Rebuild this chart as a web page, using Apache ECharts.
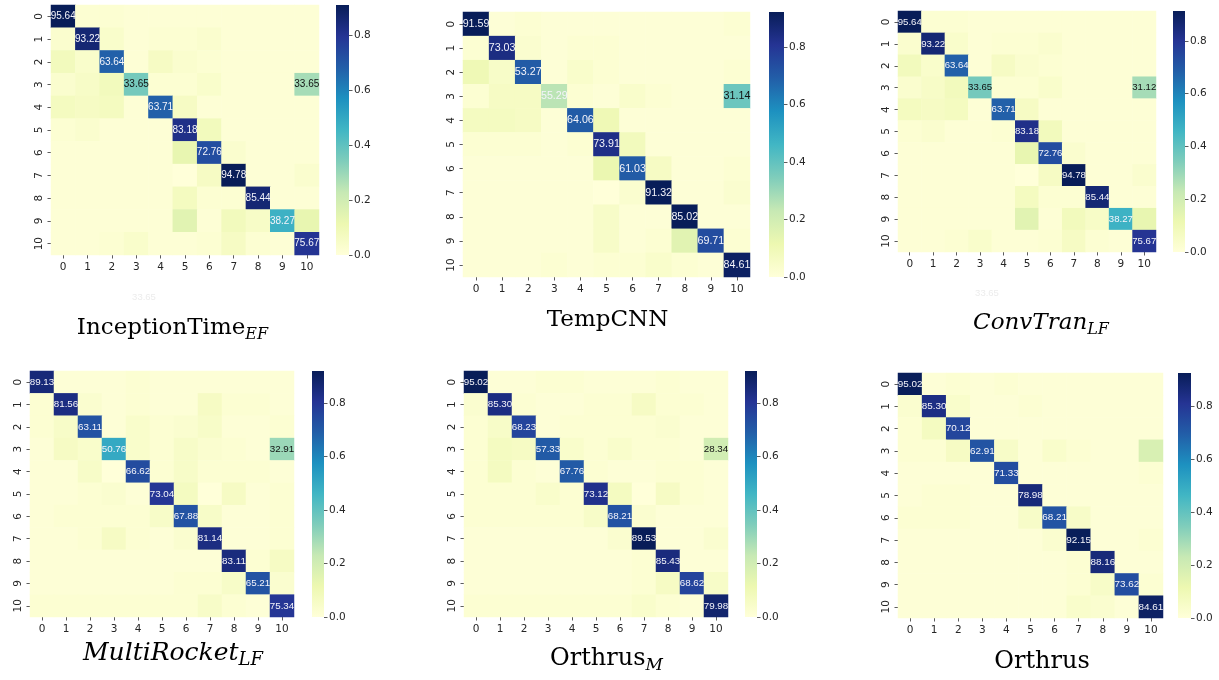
<!DOCTYPE html>
<html><head><meta charset="utf-8">
<script src="https://cdn.jsdelivr.net/npm/echarts@6/dist/echarts.min.js"></script>
<style>html,body{margin:0;padding:0;background:#fff}#c{width:1219px;height:680px}</style>
</head><body><div id="c"></div>
<script>
// ---------- DATA ----------
const classLabels = ['0','1','2','3','4','5','6','7','8','9','10'];
const colorbarTicks = [0, 0.2, 0.4, 0.6, 0.8];

// colour values (rows = true class, cols = predicted class)
const inceptionTimeEF = [
  [0.92,0.02,0.02,0.01,0.01,0.01,0.01,0.01,0.01,0.01,0.01],
  [0.03,0.86,0.04,0.01,0.02,0.02,0.03,0.01,0.01,0.01,0.01],
  [0.08,0.04,0.68,0.01,0.06,0.03,0.02,0.01,0.01,0.01,0.01],
  [0.03,0.05,0.08,0.36,0.02,0.02,0.04,0.01,0.01,0.01,0.28],
  [0.07,0.06,0.07,0.01,0.68,0.06,0.01,0.01,0.01,0.01,0.01],
  [0.02,0.03,0.01,0.01,0.01,0.82,0.08,0.01,0.01,0.01,0.01],
  [0.01,0.01,0.01,0.01,0.01,0.13,0.73,0.03,0.01,0.01,0.01],
  [0.01,0.01,0.01,0.01,0.01,0.00,0.06,0.92,0.01,0.01,0.03],
  [0.01,0.01,0.01,0.01,0.01,0.07,0.02,0.02,0.86,0.01,0.01],
  [0.01,0.01,0.01,0.01,0.01,0.15,0.01,0.08,0.05,0.47,0.13],
  [0.01,0.01,0.02,0.04,0.01,0.01,0.02,0.06,0.02,0.01,0.80]
];
const inceptionTimeEFText = [[0,0,'95.64'],[1,1,'93.22'],[2,2,'63.64'],[3,3,'33.65'],[3,10,'33.65'],[4,4,'63.71'],[5,5,'83.18'],[6,6,'72.76'],[7,7,'94.78'],[8,8,'85.44'],[9,9,'38.27'],[10,10,'75.67']];

const tempCNN = [
  [0.92,0.01,0.02,0.01,0.01,0.01,0.01,0.01,0.01,0.01,0.02],
  [0.02,0.84,0.03,0.01,0.02,0.02,0.01,0.01,0.01,0.01,0.01],
  [0.10,0.05,0.70,0.01,0.04,0.02,0.01,0.01,0.01,0.01,0.02],
  [0.02,0.06,0.06,0.25,0.02,0.01,0.04,0.02,0.01,0.01,0.38],
  [0.07,0.07,0.06,0.01,0.70,0.10,0.01,0.01,0.01,0.01,0.01],
  [0.02,0.02,0.02,0.01,0.02,0.83,0.08,0.01,0.01,0.01,0.01],
  [0.01,0.01,0.01,0.01,0.01,0.12,0.70,0.06,0.01,0.01,0.02],
  [0.01,0.01,0.01,0.01,0.01,0.00,0.03,0.92,0.01,0.01,0.03],
  [0.01,0.01,0.01,0.01,0.01,0.05,0.01,0.01,0.92,0.01,0.01],
  [0.01,0.01,0.01,0.01,0.01,0.05,0.01,0.02,0.15,0.74,0.02],
  [0.01,0.01,0.01,0.02,0.01,0.02,0.02,0.04,0.02,0.01,0.90]
];
const tempCNNText = [[0,0,'91.59'],[1,1,'73.03'],[2,2,'53.27'],[3,3,'55.29'],[3,10,'31.14'],[4,4,'64.06'],[5,5,'73.91'],[6,6,'61.03'],[7,7,'91.32'],[8,8,'85.02'],[9,9,'69.71'],[10,10,'84.61']];

const convTranLF = [
  [0.92,0.02,0.02,0.01,0.01,0.01,0.01,0.01,0.01,0.01,0.01],
  [0.03,0.86,0.04,0.01,0.02,0.02,0.03,0.01,0.01,0.01,0.01],
  [0.08,0.04,0.68,0.01,0.06,0.03,0.02,0.01,0.01,0.01,0.01],
  [0.03,0.05,0.08,0.36,0.02,0.02,0.04,0.01,0.01,0.01,0.28],
  [0.07,0.06,0.07,0.01,0.68,0.06,0.01,0.01,0.01,0.01,0.01],
  [0.02,0.03,0.01,0.01,0.02,0.82,0.08,0.01,0.01,0.01,0.01],
  [0.01,0.01,0.01,0.01,0.01,0.13,0.73,0.03,0.01,0.01,0.01],
  [0.01,0.01,0.01,0.01,0.01,0.00,0.06,0.92,0.01,0.01,0.03],
  [0.01,0.01,0.01,0.01,0.01,0.07,0.02,0.02,0.86,0.01,0.01],
  [0.01,0.01,0.01,0.01,0.01,0.15,0.01,0.08,0.05,0.47,0.13],
  [0.01,0.01,0.02,0.04,0.01,0.01,0.02,0.06,0.02,0.01,0.80]
];
const convTranLFText = [[0,0,'95.64'],[1,1,'93.22'],[2,2,'63.64'],[3,3,'33.65'],[3,10,'31.12'],[4,4,'63.71'],[5,5,'83.18'],[6,6,'72.76'],[7,7,'94.78'],[8,8,'85.44'],[9,9,'38.27'],[10,10,'75.67']];

const multiRocketLF = [
  [0.86,0.01,0.01,0.01,0.02,0.01,0.01,0.01,0.01,0.01,0.01],
  [0.02,0.84,0.03,0.01,0.02,0.01,0.01,0.06,0.02,0.02,0.01],
  [0.02,0.05,0.72,0.01,0.04,0.02,0.03,0.05,0.01,0.01,0.02],
  [0.01,0.06,0.04,0.50,0.04,0.02,0.05,0.03,0.02,0.01,0.30],
  [0.01,0.01,0.05,0.00,0.74,0.02,0.05,0.02,0.02,0.02,0.01],
  [0.01,0.01,0.02,0.03,0.01,0.80,0.07,0.00,0.06,0.01,0.02],
  [0.01,0.02,0.02,0.02,0.02,0.05,0.72,0.05,0.01,0.01,0.02],
  [0.01,0.01,0.02,0.06,0.02,0.01,0.03,0.84,0.01,0.01,0.02],
  [0.01,0.01,0.01,0.01,0.01,0.01,0.01,0.01,0.85,0.02,0.06],
  [0.01,0.01,0.01,0.01,0.01,0.01,0.02,0.02,0.05,0.72,0.03],
  [0.02,0.02,0.02,0.02,0.02,0.02,0.02,0.05,0.02,0.01,0.80]
];
const multiRocketLFText = [[0,0,'89.13'],[1,1,'81.56'],[2,2,'63.11'],[3,3,'50.76'],[3,10,'32.91'],[4,4,'66.62'],[5,5,'73.04'],[6,6,'67.88'],[7,7,'81.14'],[8,8,'83.11'],[9,9,'65.21'],[10,10,'75.34']];

const orthrusM = [
  [0.92,0.01,0.01,0.02,0.02,0.01,0.01,0.01,0.02,0.01,0.01],
  [0.03,0.84,0.02,0.01,0.01,0.02,0.02,0.06,0.02,0.02,0.01],
  [0.02,0.05,0.76,0.01,0.02,0.02,0.02,0.02,0.03,0.01,0.01],
  [0.02,0.07,0.06,0.70,0.04,0.02,0.04,0.02,0.02,0.01,0.20],
  [0.02,0.07,0.02,0.01,0.70,0.02,0.01,0.01,0.02,0.02,0.01],
  [0.02,0.02,0.02,0.04,0.02,0.82,0.07,0.00,0.06,0.02,0.01],
  [0.02,0.02,0.02,0.02,0.02,0.05,0.72,0.03,0.01,0.01,0.01],
  [0.01,0.01,0.01,0.01,0.01,0.01,0.03,0.92,0.01,0.01,0.03],
  [0.01,0.01,0.01,0.01,0.01,0.01,0.01,0.02,0.85,0.01,0.01],
  [0.01,0.01,0.01,0.01,0.01,0.01,0.01,0.02,0.06,0.76,0.05],
  [0.02,0.02,0.02,0.02,0.02,0.02,0.02,0.04,0.02,0.01,0.88]
];
const orthrusMText = [[0,0,'95.02'],[1,1,'85.30'],[2,2,'68.23'],[3,3,'57.33'],[3,10,'28.34'],[4,4,'67.76'],[5,5,'73.12'],[6,6,'68.21'],[7,7,'89.53'],[8,8,'85.43'],[9,9,'68.62'],[10,10,'79.98']];

const orthrus = [
  [0.92,0.01,0.02,0.01,0.02,0.01,0.01,0.01,0.01,0.01,0.01],
  [0.03,0.84,0.04,0.01,0.01,0.02,0.01,0.01,0.01,0.01,0.01],
  [0.02,0.07,0.76,0.01,0.01,0.01,0.01,0.01,0.01,0.01,0.01],
  [0.02,0.02,0.06,0.72,0.05,0.01,0.04,0.02,0.01,0.01,0.18],
  [0.01,0.01,0.01,0.01,0.74,0.01,0.01,0.01,0.01,0.01,0.02],
  [0.01,0.02,0.02,0.01,0.01,0.86,0.01,0.01,0.01,0.01,0.01],
  [0.02,0.02,0.02,0.01,0.01,0.05,0.72,0.05,0.01,0.01,0.01],
  [0.01,0.01,0.01,0.01,0.01,0.01,0.03,0.92,0.01,0.01,0.02],
  [0.01,0.01,0.01,0.01,0.01,0.01,0.01,0.02,0.86,0.01,0.01],
  [0.01,0.01,0.01,0.01,0.01,0.01,0.01,0.02,0.05,0.74,0.02],
  [0.01,0.01,0.01,0.01,0.01,0.01,0.01,0.04,0.03,0.01,0.90]
];
const orthrusText = [[0,0,'95.02'],[1,1,'85.30'],[2,2,'70.12'],[3,3,'62.91'],[4,4,'71.33'],[5,5,'78.98'],[6,6,'68.21'],[7,7,'92.15'],[8,8,'88.16'],[9,9,'73.62'],[10,10,'84.61']];

const colorbarMax = [0.912, 0.921, 0.913, 0.921, 0.92, 0.924];
const panelTitles = [
  {main: 'InceptionTime', sub: 'EF', italic: false},
  {main: 'TempCNN', sub: '', italic: false},
  {main: 'ConvTran', sub: 'LF', italic: true},
  {main: 'MultiRocket', sub: 'LF', italic: true},
  {main: 'Orthrus', sub: 'M', italic: false},
  {main: 'Orthrus', sub: '', italic: false}
];
const strayText = '33.65';

// ---------- LAYOUT / STYLE ----------
const matrices = [inceptionTimeEF, tempCNN, convTranLF, multiRocketLF, orthrusM, orthrus];
const texts = [inceptionTimeEFText, tempCNNText, convTranLFText, multiRocketLFText, orthrusMText, orthrusText];
const layout = [
  {grid:{left:51, top:5, width:268, height:250}, cb:{left:336, width:13}, title:{x:172.5, base:335, size:23}},
  {grid:{left:463, top:12, width:287, height:265}, cb:{left:769, width:15}, title:{x:607.5, base:327, size:23}},
  {grid:{left:898, top:11, width:258, height:241}, cb:{left:1173, width:12}, title:{x:1041, base:330, size:23}},
  {grid:{left:30, top:371, width:264, height:246}, cb:{left:312, width:12}, title:{x:173, base:661, size:25}},
  {grid:{left:464, top:371, width:264, height:246}, cb:{left:745, width:12}, title:{x:606.5, base:666, size:24}},
  {grid:{left:898, top:373, width:265, height:245}, cb:{left:1178, width:13}, title:{x:1042, base:669, size:24}}
];
const lightTextOverride = {1: ['3,3']};
const YlGnBu = ['#ffffd9','#edf8b1','#c7e9b4','#7fcdbb','#41b6c4','#1d91c0','#225ea8','#253494','#081d58'];
const tickColor = '#333';
const labelColor = '#262626';

const chart = echarts.init(document.getElementById('c'), null, {renderer: 'canvas'});
const grids = [], xAxes = [], yAxes = [], series = [], visualMaps = [], graphics = [];

layout.forEach((L, i) => {
  const cellW = L.grid.width / 11;
  grids.push(Object.assign({}, L.grid));
  xAxes.push({
    type: 'category', gridIndex: i, data: classLabels, position: 'bottom',
    axisLine: {show: false},
    axisTick: {show: true, alignWithLabel: true, length: 3.5, lineStyle: {color: tickColor, width: 0.8}},
    axisLabel: {fontSize: 10.5, color: labelColor, margin: 7, fontFamily: 'DejaVu Sans'},
    splitLine: {show: false}
  });
  yAxes.push({
    type: 'category', gridIndex: i, data: classLabels, inverse: true,
    axisLine: {show: false},
    axisTick: {show: true, alignWithLabel: true, length: 3.5, lineStyle: {color: tickColor, width: 0.8}},
    axisLabel: {fontSize: 10.5, color: labelColor, margin: 6, rotate: 90, fontFamily: 'DejaVu Sans'},
    splitLine: {show: false}
  });
  const M = matrices[i];
  const ann = {};
  texts[i].forEach(t => { ann[t[0] + ',' + t[1]] = t[2]; });
  const overrides = lightTextOverride[i] || [];
  const data = [];
  for (let r = 0; r < 11; r++) {
    for (let c = 0; c < 11; c++) {
      const v = M[r][c];
      const key = r + ',' + c;
      const item = {value: [c, r, v]};
      if (ann[key] !== undefined) {
        const light = v >= 0.42 || overrides.indexOf(key) >= 0;
        item.label = {show: true, formatter: ann[key], color: light ? '#f4f4fa' : '#111',
          fontSize: Math.round(cellW * 0.41 * 10) / 10, fontFamily: 'Liberation Sans'};
      }
      data.push(item);
    }
  }
  series.push({
    type: 'heatmap', xAxisIndex: i, yAxisIndex: i, data: data,
    label: {show: false}, emphasis: {disabled: true}, silent: true, progressive: 0
  });
  visualMaps.push({
    type: 'continuous', show: false, seriesIndex: i, dimension: 2,
    min: 0, max: colorbarMax[i], inRange: {color: YlGnBu}
  });
});

// colour bars
layout.forEach((L, i) => {
  const gi = 6 + i;
  grids.push({left: L.cb.left, top: L.grid.top, width: L.cb.width, height: L.grid.height});
  xAxes.push({type: 'category', gridIndex: gi, data: ['cb'], show: false});
  yAxes.push({
    type: 'value', gridIndex: gi, position: 'right', min: 0, max: colorbarMax[i],
    axisLine: {show: false}, splitLine: {show: false},
    axisTick: {show: true, length: 3.5, customValues: colorbarTicks, lineStyle: {color: tickColor, width: 0.8}},
    axisLabel: {customValues: colorbarTicks, formatter: v => v.toFixed(1), fontSize: 10.5, color: labelColor, margin: 5, fontFamily: 'DejaVu Sans'}
  });
  series.push({
    type: 'bar', xAxisIndex: gi, yAxisIndex: gi, data: [colorbarMax[i]], barWidth: '100%', silent: true,
    itemStyle: {color: new echarts.graphic.LinearGradient(0, 1, 0, 0,
      YlGnBu.map((c, k) => ({offset: k / (YlGnBu.length - 1), color: c})))}
  });
});

// titles
layout.forEach((L, i) => {
  const T = panelTitles[i];
  const s = L.title.size;
  const lh = Math.round(s * 1.3);
  const subSize = Math.round(s * 0.7);
  const rich = {
    m: {fontFamily: 'DejaVu Serif', fontSize: s, fontStyle: T.italic ? 'italic' : 'normal', color: '#111', lineHeight: lh},
    s: {fontFamily: 'DejaVu Serif', fontSize: subSize, fontStyle: 'italic', color: '#111', lineHeight: Math.round(s * 0.68), verticalAlign: 'bottom'}
  };
  const txt = '{m|' + T.main + '}' + (T.sub ? '{s|' + T.sub + '}' : '');
  graphics.push({
    type: 'text', x: L.title.x, y: L.title.base - (lh / 2 + 0.32 * s),
    style: {text: txt, rich: rich, align: 'center', verticalAlign: 'top'}, silent: true
  });
});
// faint stray labels visible in the source figure
[[144, 297], [987, 293]].forEach(p => {
  graphics.push({type: 'text', x: p[0], y: p[1],
    style: {text: strayText, fontSize: 9.5, fontFamily: 'Liberation Sans', fill: '#ececec', align: 'center', verticalAlign: 'middle'}, silent: true});
});

chart.setOption({
  animation: false,
  backgroundColor: '#ffffff',
  grid: grids, xAxis: xAxes, yAxis: yAxes, visualMap: visualMaps, series: series, graphic: graphics
});
</script></body></html>
